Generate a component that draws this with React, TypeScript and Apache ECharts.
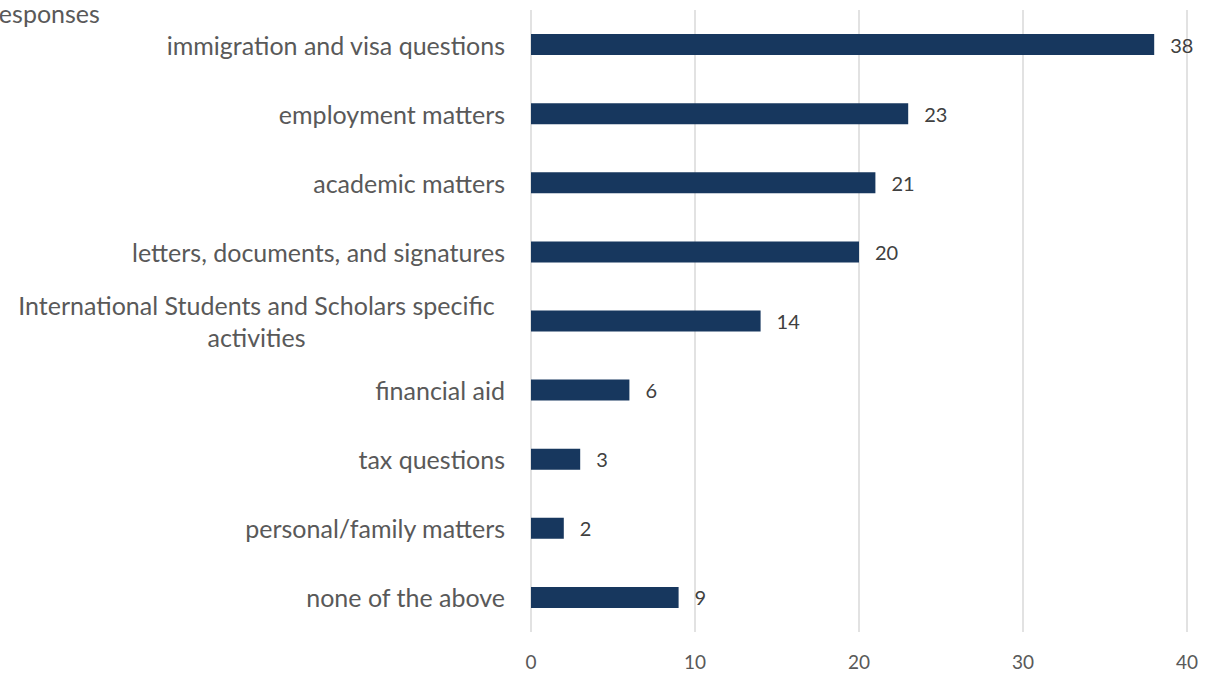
import React, { useEffect, useRef } from "react";
import * as echarts from "echarts";

const categories = [
  "immigration and visa questions",
  "employment matters",
  "academic matters",
  "letters, documents, and signatures",
  "International Students and Scholars specific activities",
  "financial aid",
  "tax questions",
  "personal/family matters",
  "none of the above",
];
const values = [38, 23, 21, 20, 14, 6, 3, 2, 9];
const xTicks = [0, 10, 20, 30, 40];
const titleText = "Responses";

const FONT = "Lato, 'Open Sans', sans-serif";

export default function App() {
  const ref = useRef<HTMLDivElement>(null);
  useEffect(() => {
    if (!ref.current) return;
    const chart = echarts.init(ref.current, undefined, { renderer: "svg" });
    chart.setOption({
      animation: false,
      backgroundColor: "#ffffff",
      graphic: [
        {
          type: "text",
          left: -16,
          top: 0,
          style: { text: titleText, fill: "#595959", font: `25px ${FONT}` },
        },
      ],
      grid: { left: 531, right: 22, top: 10, bottom: 41, containLabel: false },
      xAxis: {
        type: "value",
        min: xTicks[0],
        max: xTicks[xTicks.length - 1],
        interval: 10,
        axisLine: { show: false },
        axisTick: { show: false },
        splitLine: { lineStyle: { color: "#d9d9d9", width: 1.5 } },
        axisLabel: { color: "#595959", fontSize: 19, fontFamily: FONT, margin: 19, lineHeight: 20 },
      },
      yAxis: {
        type: "category",
        data: categories,
        inverse: true,
        axisLine: { show: false },
        axisTick: { show: false },
        axisLabel: {
          color: "#595959",
          fontSize: 25,
          fontFamily: FONT,
          margin: 26,
          formatter: (v: string) => {
            if (v.startsWith("International")) {
              return "{c|International Students and Scholars specific}\n{c|activities}";
            }
            return v;
          },
          rich: {
            c: { width: 497, align: "center", fontSize: 25, fontFamily: FONT, color: "#595959", lineHeight: 32 },
          },
        },
      },
      series: [
        {
          type: "bar",
          data: values,
          barWidth: 21,
          itemStyle: { color: "#17375E" },
          label: {
            show: true,
            position: "right",
            distance: 16,
            color: "#404040",
            fontSize: 20,
            fontFamily: FONT,
          },
        },
      ],
    });
    return () => chart.dispose();
  }, []);
  return <div ref={ref} style={{ width: 1209, height: 673, position: "absolute", left: 0, top: 0 }} />;
}
